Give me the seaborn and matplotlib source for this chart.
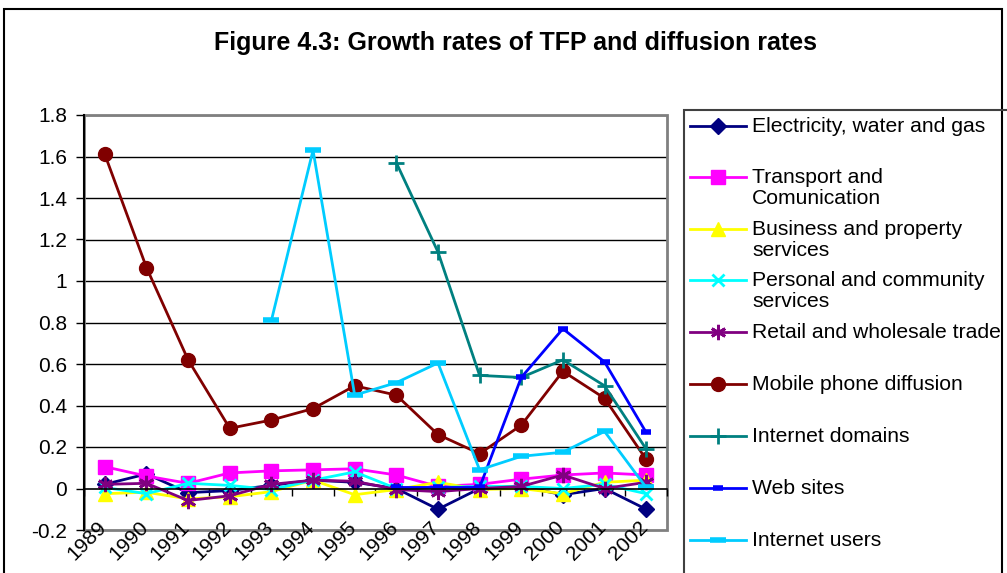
import numpy as np
import pandas as pd
import matplotlib
matplotlib.use("Agg")
import matplotlib.pyplot as plt
import matplotlib.transforms as mtransforms
from matplotlib.lines import Line2D
from matplotlib.patches import Rectangle
import seaborn as sns

years = ["1989", "1990", "1991", "1992", "1993", "1994", "1995",
         "1996", "1997", "1998", "1999", "2000", "2001", "2002"]
nan = np.nan
electricity = [0.02, 0.07, -0.02, -0.01, 0.015, 0.04, 0.03, 0.0, -0.1, 0.0, 0.01, -0.03, 0.0, -0.1]
transport = [0.105, 0.06, 0.025, 0.075, 0.085, 0.09, 0.095, 0.065, 0.01, 0.02, 0.045, 0.065, 0.075, 0.065]
business = [-0.025, -0.018, -0.05, -0.04, -0.015, 0.04, -0.03, -0.005, 0.03, -0.005, 0.0, -0.025, 0.03, 0.04]
personal = [0.005, -0.025, 0.025, 0.015, -0.005, 0.04, 0.08, 0.0, 0.005, 0.01, 0.01, 0.0, 0.02, -0.025]
retail = [0.02, 0.025, -0.058, -0.035, 0.02, 0.04, 0.035, -0.005, -0.015, 0.0, 0.01, 0.065, 0.0, 0.03]
mobile = [1.61, 1.065, 0.62, 0.29, 0.33, 0.385, 0.495, 0.45, 0.26, 0.168, 0.305, 0.565, 0.435, 0.14]
domains = [nan, nan, nan, nan, nan, nan, nan, 1.57, 1.14, 0.545, 0.535, 0.62, 0.495, 0.19]
websites = [nan, nan, nan, nan, nan, nan, nan, 0.005, 0.005, 0.005, 0.535, 0.77, 0.61, 0.27]
users = [nan, nan, nan, nan, 0.81, 1.63, 0.45, 0.51, 0.605, 0.09, 0.155, 0.175, 0.275, 0.005]

labels = ["Electricity, water and gas", "Transport and\nComunication",
          "Business and property\nservices", "Personal and community\nservices",
          "Retail and wholesale trade", "Mobile phone diffusion",
          "Internet domains", "Web sites", "Internet users"]
series = [electricity, transport, business, personal, retail, mobile, domains, websites, users]

styles = [
    dict(color="#000080", marker="D", ms=8, mew=1),
    dict(color="#FF00FF", marker="s", ms=10, mew=1),
    dict(color="#FFFF00", marker="^", ms=10, mew=1),
    dict(color="#00FFFF", marker="x", ms=9, mew=2),
    dict(color="#800080", marker=(6, 2, 0), ms=11, mew=2),
    dict(color="#800000", marker="o", ms=10, mew=1),
    dict(color="#008080", marker="+", ms=11, mew=2),
    dict(color="#0000FF", marker="_", ms=7, mew=4),
    dict(color="#00CCFF", marker="_", ms=11, mew=4),
]

plt.rcParams['font.family'] = ['Liberation Sans', 'DejaVu Sans']

W, H = 1007, 573
fig = plt.figure(figsize=(W / 100, H / 100), dpi=100)
ax = fig.add_axes([84 / W, 1 - 530 / H, (667 - 84) / W, (530 - 115) / H])

pos = np.arange(len(years))
for lab, vals, st in zip(labels, series, styles):
    df = pd.DataFrame({"x": pos, "y": vals}).dropna()
    sns.lineplot(data=df, x="x", y="y", ax=ax, color=st["color"], marker=st["marker"],
                 markersize=st["ms"], markeredgewidth=st["mew"],
                 markeredgecolor=st["color"], markerfacecolor=st["color"],
                 linewidth=2, errorbar=None, legend=False, sort=False)

ax.set_xlim(-0.5, len(years) - 0.5)
ax.set_ylim(-0.2, 1.8)
ax.set_yticks(np.arange(-0.2, 1.81, 0.2))
ax.set_yticklabels(["-0.2", "0", "0.2", "0.4", "0.6", "0.8", "1", "1.2", "1.4", "1.6", "1.8"])
for yv in np.arange(0.2, 1.81, 0.2):
    ax.axhline(yv, color="black", lw=1, zorder=0)
ax.set_xlabel("")
ax.set_ylabel("")

# category axis at zero
ax.spines["bottom"].set_position(("data", 0))
ax.spines["bottom"].set_color("black")
ax.spines["bottom"].set_linewidth(1.2)
ax.spines["left"].set_color("black")
ax.spines["left"].set_linewidth(1.5)
ax.spines["top"].set_visible(False)
ax.spines["right"].set_visible(False)
ax.add_patch(Rectangle((0, 0), 1, 1, transform=ax.transAxes, fill=False,
                       edgecolor="#808080", lw=2, zorder=0.5, clip_on=False))

ax.set_xticks(pos)
ax.set_xticks(np.arange(-0.5, len(years), 1), minor=True)
ax.set_xticklabels(years)
ax.tick_params(axis="x", which="major", length=0, labelsize=15, pad=0)
ax.tick_params(axis="x", which="minor", length=5, width=1, color="black", direction="out")
ax.tick_params(axis="y", length=6, width=1, labelsize=15, pad=6)
off = mtransforms.ScaledTranslation(-8 / 100, -29 / 100, fig.dpi_scale_trans)
for t in ax.get_xticklabels():
    t.set_rotation(45)
    t.set_rotation_mode("anchor")
    t.set_ha("right")
    t.set_va("top")
    t.set_transform(t.get_transform() + off)

# title
fig.text(515 / W, 1 - 43 / H, "Figure 4.3: Growth rates of TFP and diffusion rates",
         ha="center", va="center", fontsize=18, fontweight="bold")

# chart border
fig.patches.append(Rectangle((4 / W, -0.05), (1002 - 4) / W, 1.05 - 9 / H,
                             transform=fig.transFigure, fill=False,
                             edgecolor="black", lw=1.5))
# legend box
fig.patches.append(Rectangle((684 / W, -0.05), 0.5, 1.05 - 110 / H,
                             transform=fig.transFigure, fill=False,
                             edgecolor="#404040", lw=1.5))
ys = [126, 177, 229, 280, 332, 384, 436, 488, 540]
for lab, st, yp in zip(labels, styles, ys):
    yf = 1 - yp / H
    fig.lines.append(Line2D([690 / W, 746 / W], [yf, yf], transform=fig.transFigure,
                            color=st["color"], lw=2))
    fig.lines.append(Line2D([718 / W], [yf], transform=fig.transFigure, color=st["color"],
                            marker=st["marker"], markersize=st["ms"], mew=st["mew"],
                            markerfacecolor=st["color"], markeredgecolor=st["color"]))
    fig.text(752 / W, yf + 9 / H, lab, ha="left", va="top", fontsize=15.2,
             linespacing=1.12)

fig.savefig("out.png", dpi=100)
